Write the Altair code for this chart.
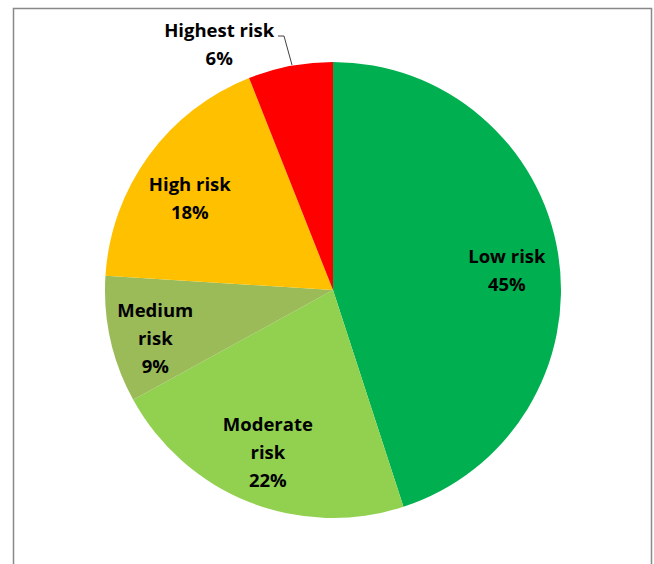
import altair as alt
import pandas as pd

categories = ["Low risk", "Moderate risk", "Medium risk", "High risk", "Highest risk"]
values = [45, 22, 9, 18, 6]
label_lines = [["Low risk", "45%"], ["Moderate", "risk", "22%"], ["Medium", "risk", "9%"],
               ["High risk", "18%"], ["Highest risk", "6%"]]
colors = ["#00B050", "#92D050", "#9BBB59", "#FFC000", "#FF0000"]

df = pd.DataFrame({
    "category": categories,
    "value": values,
    "order": list(range(len(categories))),
    "label": label_lines,
})

CX, CY, R = 333, 290, 228
FONT = "Open Sans"
FS = 18.5

base = alt.Chart(df).encode(
    theta=alt.Theta("value:Q", stack=True),
    order=alt.Order("order:Q"),
    x=alt.value(CX),
    y=alt.value(CY),
)

pie = base.mark_arc(outerRadius=R, stroke=None).encode(
    color=alt.Color("category:N", scale=alt.Scale(domain=categories, range=colors), legend=None),
)


def label_layer(cat, radius, dx, dy):
    return base.mark_text(
        radius=radius, font=FONT, fontSize=FS, fontWeight="bold", color="black",
        lineHeight=28, baseline="middle", align="center", dx=dx, dy=dy,
    ).transform_calculate(
        txt=f"datum.category == '{cat}' ? datum.label : ''"
    ).encode(text="txt:N")


labels = [
    label_layer("Low risk", 177, -1, -5),
    label_layer("Moderate risk", 177, 0, -30),
    label_layer("Medium risk", 177, -5, -18),
    label_layer("High risk", 177, 0, -1),
    label_layer("Highest risk", 271, -63, 7),
]

one = pd.DataFrame({"a": [0]})
leader1 = alt.Chart(one).mark_rule(color="#404040", strokeWidth=1).encode(
    x=alt.value(278), x2=alt.value(284), y=alt.value(36), y2=alt.value(36))
leader2 = alt.Chart(one).mark_rule(color="#404040", strokeWidth=1).encode(
    x=alt.value(284), x2=alt.value(292), y=alt.value(36), y2=alt.value(65))

frame = alt.Chart(one).mark_rect(
    fill=None, stroke="#898989", strokeWidth=1.5).encode(
    x=alt.value(13.5), x2=alt.value(651.5), y=alt.value(8.5), y2=alt.value(620))

chart = alt.layer(frame, pie, *labels, leader1, leader2).properties(
    width=654, height=564, padding=0, autosize=alt.AutoSizeParams(type="none"),
    background="white",
).configure_view(stroke=None)

chart.save("out.html", embed_options={"renderer": "svg", "actions": False})
